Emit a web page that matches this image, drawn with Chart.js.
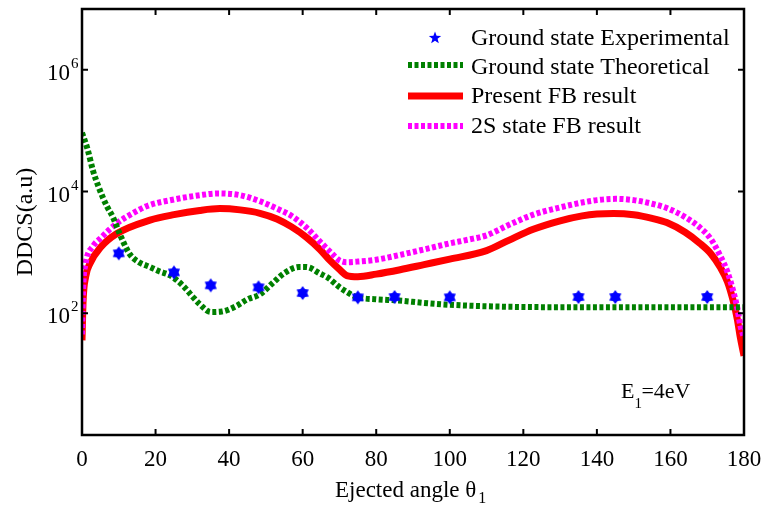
<!DOCTYPE html>
<html><head><meta charset="utf-8">
<script src="https://cdn.jsdelivr.net/npm/chart.js@4.4.1/dist/chart.umd.min.js"></script>
<style>html,body{margin:0;padding:0;background:#fff;}</style>
</head><body>
<canvas id="c" width="770" height="505"></canvas>
<script>
// ---- data ----
const expAngles = [10, 25, 35, 48, 60, 75, 85, 100, 135, 145, 170];
const expValues = [965, 470, 288, 267, 215, 183, 185, 183, 185, 185, 185];

const theoAngles = [0, 1.5, 3, 4.5, 5.7, 7, 8.4, 10.5, 13, 15.5, 18.5, 21, 24, 27.5, 30, 32, 35, 38, 42, 45, 48.4, 52, 55, 59, 61, 64.7, 67, 70, 72, 73.7, 75, 80, 86, 93, 100, 113, 130, 150, 170, 180];
const theoValues = [93000, 50000, 22000, 12000, 7900, 5400, 3800, 1860, 930, 690, 575, 490, 417, 282, 190, 141, 105, 107, 132, 170, 205, 320, 457, 575, 575, 450, 380, 269, 224, 195, 182, 170, 162, 148, 138, 129, 126, 126, 126, 126];

const fbAngles = [0, 0.3, 1, 2.2, 5, 9.5, 18.5, 25, 32, 37.5, 43, 48.4, 53, 57, 61, 64.7, 67.4, 70, 72, 75, 80, 86.5, 93, 100, 110, 116, 122.7, 130, 136, 140, 144.5, 150, 155, 159, 164, 168, 171, 173.5, 175.5, 177, 178.2, 179, 180];
const fbValues = [36, 162, 400, 660, 1200, 2040, 3390, 4170, 4900, 5250, 5000, 4400, 3550, 2630, 1780, 1120, 740, 525, 417, 400, 440, 520, 630, 776, 1070, 1580, 2400, 3310, 3980, 4270, 4370, 4170, 3630, 3090, 2140, 1410, 955, 575, 331, 166, 79, 40, 20];

const s2Angles = [0, 0.3, 1, 3, 5, 9.5, 14, 18, 25, 32, 37, 43, 48.4, 53, 57, 61, 64.7, 68, 70, 72, 75, 80, 86.5, 93, 100, 105, 110, 116, 122.7, 130, 136, 140, 145, 150, 155, 159, 164, 168, 171, 173.5, 175.5, 177, 178.2, 179, 180];
const s2Values = [45, 250, 660, 1260, 1700, 3020, 4470, 5890, 7410, 8710, 9330, 8710, 6920, 5250, 3980, 2570, 1510, 955, 741, 692, 708, 760, 912, 1120, 1410, 1620, 1910, 2820, 4170, 5500, 6610, 7240, 7590, 7240, 6310, 5370, 3800, 2570, 1660, 890, 479, 240, 120, 63, 40];

const xTicks = [0, 20, 40, 60, 80, 100, 120, 140, 160, 180];
const yTicks = [1e2, 1e4, 1e6];
const yTickExp = ['2', '4', '6'];
const seriesNames = ['Ground state Experimental', 'Ground state Theoretical', 'Present FB result', '2S state FB result'];

const toXY = (xs, ys) => xs.map((x, i) => ({x: x, y: ys[i]}));
const SERIF = '"Liberation Serif", "Times New Roman", serif';

// filled 6-point star marker
function makeStar(size, rOut, rIn, n, color) {
  const c = document.createElement('canvas');
  c.width = size; c.height = size;
  const g = c.getContext('2d');
  g.fillStyle = color;
  g.beginPath();
  for (let i = 0; i < 2 * n; i++) {
    const r = i % 2 === 0 ? rOut : rIn;
    const a = -Math.PI / 2 + i * Math.PI / n;
    const px = size / 2 + r * Math.cos(a), py = size / 2 + r * Math.sin(a);
    if (i === 0) g.moveTo(px, py); else g.lineTo(px, py);
  }
  g.closePath(); g.fill();
  return c;
}
const starImg = makeStar(16, 7, 4.5, 6, '#0000ff');

const decor = {
  id: 'decor',
  afterDraw(chart) {
    const ctx = chart.ctx, a = chart.chartArea;
    const xs = chart.scales.x, ys = chart.scales.y;
    ctx.save();
    ctx.strokeStyle = '#000'; ctx.fillStyle = '#000';
    ctx.lineWidth = 2.5;
    ctx.strokeRect(a.left, a.top, a.right - a.left, a.bottom - a.top);
    ctx.lineWidth = 2;
    ctx.font = '23px ' + SERIF;
    ctx.textAlign = 'center'; ctx.textBaseline = 'alphabetic';
    xTicks.forEach(v => {
      const p = xs.getPixelForValue(v);
      ctx.beginPath();
      ctx.moveTo(p, a.bottom); ctx.lineTo(p, a.bottom - 6);
      ctx.moveTo(p, a.top); ctx.lineTo(p, a.top + 6);
      ctx.stroke();
      ctx.fillText(String(v), p, 466);
    });
    yTicks.forEach((v, i) => {
      const p = ys.getPixelForValue(v);
      ctx.beginPath();
      ctx.moveTo(a.left, p); ctx.lineTo(a.left + 6, p);
      ctx.moveTo(a.right, p); ctx.lineTo(a.right - 6, p);
      ctx.stroke();
      ctx.textAlign = 'right';
      ctx.font = '23px ' + SERIF;
      ctx.fillText('10', 70, p + 10);
      ctx.textAlign = 'left';
      ctx.font = '15px ' + SERIF;
      ctx.fillText(yTickExp[i], 71, p - 2);
    });
    // x title
    ctx.font = '23px ' + SERIF;
    ctx.textAlign = 'left';
    const t = 'Ejected angle \u03b8';
    const tw = ctx.measureText(t).width;
    const x0 = 335;
    ctx.fillText(t, x0, 497);
    ctx.font = '16px ' + SERIF;
    ctx.fillText('1', x0 + tw + 2, 503);
    // y title
    ctx.save();
    ctx.translate(24, 222);
    ctx.rotate(-Math.PI / 2);
    ctx.textAlign = 'center';
    ctx.font = '24px ' + SERIF;
    ctx.fillText('DDCS(a.u)', 0, 8);
    ctx.restore();
    // annotation
    ctx.textAlign = 'left';
    ctx.font = '22px ' + SERIF;
    ctx.fillText('E', 621, 398);
    const ew = ctx.measureText('E').width;
    ctx.font = '15px ' + SERIF;
    ctx.fillText('1', 621 + ew, 408);
    ctx.font = '22px ' + SERIF;
    ctx.fillText('=4eV', 621 + ew + 7, 398);
    // legend
    const ly = [45, 74, 103, 133];
    const lineY = [38, 65, 96, 126];
    ctx.font = '24px ' + SERIF;
    seriesNames.forEach((n, i) => ctx.fillText(n, 471, ly[i]));
    // legend star (5 points)
    ctx.fillStyle = '#0000ff';
    ctx.beginPath();
    for (let i = 0; i < 10; i++) {
      const r = i % 2 === 0 ? 6.5 : 2.7;
      const ang = -Math.PI / 2 + i * Math.PI / 5;
      const px = 435 + r * Math.cos(ang), py = lineY[0] + r * Math.sin(ang);
      if (i === 0) ctx.moveTo(px, py); else ctx.lineTo(px, py);
    }
    ctx.closePath(); ctx.fill();
    const ls = [
      {c: '#008000', w: 6, d: [4, 2.5]},
      {c: '#ff0000', w: 7, d: []},
      {c: '#ff00ff', w: 6, d: [4, 2.5]}
    ];
    ls.forEach((s, i) => {
      ctx.strokeStyle = s.c; ctx.lineWidth = s.w; ctx.setLineDash(s.d);
      ctx.beginPath(); ctx.moveTo(408, lineY[i + 1]); ctx.lineTo(463, lineY[i + 1]); ctx.stroke();
    });
    ctx.restore();
  }
};

new Chart(document.getElementById('c'), {
  type: 'line',
  data: {
    datasets: [
      {label: seriesNames[0], data: toXY(expAngles, expValues), showLine: false,
       pointStyle: starImg, pointRadius: 7, order: 0},
      {label: seriesNames[1], data: toXY(theoAngles, theoValues), borderColor: '#008000',
       borderWidth: 6, borderDash: [4, 2.5], pointRadius: 0, cubicInterpolationMode: 'monotone', order: 1},
      {label: seriesNames[3], data: toXY(s2Angles, s2Values), borderColor: '#ff00ff',
       borderWidth: 6, borderDash: [4, 2.5], pointRadius: 0, cubicInterpolationMode: 'monotone', order: 2},
      {label: seriesNames[2], data: toXY(fbAngles, fbValues), borderColor: '#ff0000',
       borderWidth: 7, pointRadius: 0, cubicInterpolationMode: 'monotone', order: 3}
    ]
  },
  options: {
    responsive: false, animation: false,
    layout: {padding: {left: 82, top: 9, right: 26, bottom: 70}},
    plugins: {legend: {display: false}, tooltip: {enabled: false}},
    scales: {
      x: {type: 'linear', min: 0, max: 180, display: false},
      y: {type: 'logarithmic', min: 1, max: 1e7, display: false}
    }
  },
  plugins: [decor]
});
</script>
</body></html>
